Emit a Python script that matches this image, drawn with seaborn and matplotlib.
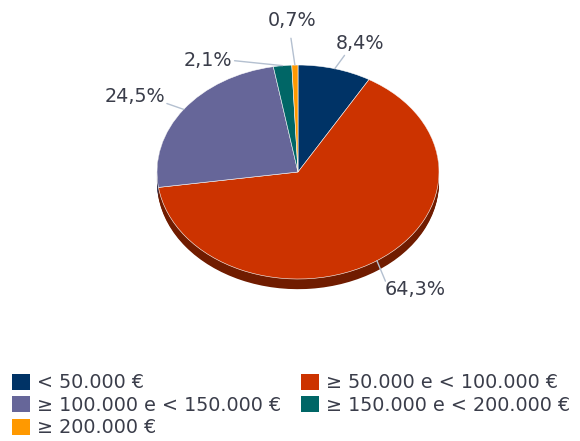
import numpy as np
import matplotlib
matplotlib.use('Agg')
import matplotlib.pyplot as plt
import seaborn as sns
from matplotlib.patches import Patch

# data
categories = ['< 50.000 €', '≥ 50.000 e < 100.000 €', '≥ 100.000 e < 150.000 €',
              '≥ 150.000 e < 200.000 €', '≥ 200.000 €']
shares = [8.4, 64.3, 24.5, 2.1, 0.7]
pct_labels = ['8,4%', '64,3%', '24,5%', '2,1%', '0,7%']

sns.set_style('white')
plt.rcParams['font.family'] = ['DejaVu Sans']

colors = sns.color_palette(['#003366', '#cc3300', '#666699', '#006666', '#ff9900'])
dark = [tuple(c * 0.55 for c in col) for col in colors]
txt_col = '#3a3d4a'
line_col = '#b4c0d0'

fig = plt.figure(figsize=(5.8, 4.41), dpi=100)
# axes placed so the ellipse sits where it does in the picture
ax = fig.add_axes([86.5 / 580, 108.5 / 441, 423 / 580, 321 / 441])

# 3d rim: stacked darker copies shifted down
depth = 0.095
for off in np.linspace(depth, 0.005, 12):
    ax.pie(shares, colors=dark, startangle=90, counterclock=False,
           center=(0, -off), wedgeprops=dict(linewidth=0))
wedges, _ = ax.pie(shares, colors=colors, startangle=90, counterclock=False,
                   wedgeprops=dict(edgecolor='white', linewidth=0.4))

ax.set_aspect('auto')
ax.set_xlim(-1.5, 1.5)
ax.set_ylim(-1.5, 1.5)
ax.axis('off')

# label text positions (data units of the unit pie) and leader line ends
label_pos = [(0.44, 1.20), (0.83, -1.10), (-1.16, 0.71), (-0.64, 1.04), (-0.04, 1.42)]
line_end = [(0.33, 1.09), (0.62, -1.02), (-0.93, 0.64), (-0.45, 1.04), (-0.05, 1.25)]

for w, lab, pos, end in zip(wedges, pct_labels, label_pos, line_end):
    mid = np.deg2rad((w.theta1 + w.theta2) / 2)
    start = (np.cos(mid), np.sin(mid))
    ax.plot([start[0], end[0]], [start[1], end[1]], color=line_col, lw=1,
            clip_on=False, zorder=1)
    ax.text(pos[0], pos[1], lab, ha='center', va='center', fontsize=13.8,
            color=txt_col, clip_on=False)

# legend in row order like the original
handles = [Patch(facecolor=c, edgecolor='none') for c in colors]
order = [0, 2, 4, 1, 3]
fig.legend([handles[i] for i in order], [categories[i] for i in order],
           ncol=2, loc='lower left', bbox_to_anchor=(-0.002, -0.022),
           frameon=False, fontsize=13.8, handlelength=0.95, handleheight=0.9,
           handletextpad=0.35, labelspacing=0.18, columnspacing=1.03,
           labelcolor=txt_col, borderpad=0.2)

fig.savefig('out.png', dpi=100)
